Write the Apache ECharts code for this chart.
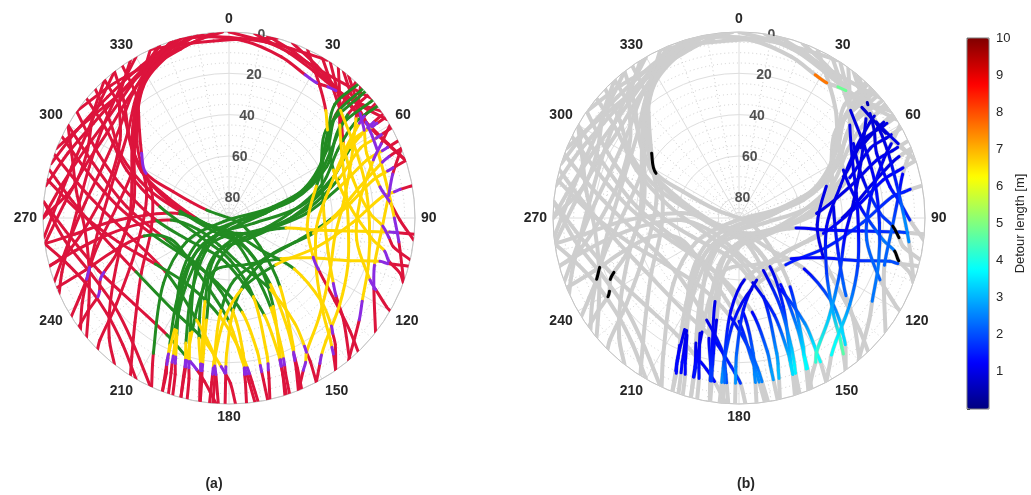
<!DOCTYPE html>
<html>
<head>
<meta charset="utf-8">
<script src="https://cdn.jsdelivr.net/npm/echarts@6/dist/echarts.min.js"></script>
<style>
  html, body { margin: 0; padding: 0; background: #ffffff; }
  #chart { width: 1031px; height: 495px; }
</style>
</head>
<body>
<div id="chart"></div>
<script>
// Satellite sky tracks. Each point: [elevation (deg), azimuth (deg), class of the
// segment starting here (r/g/y/p), detour length of that segment in metres
// (null = no detour, -1 = flagged)].

const elevationTicks = [0, 20, 40, 60, 80];
const colorbarTicks = [1, 2, 3, 4, 5, 6, 7, 8, 9, 10];

// Passes rising in the north-east / east and setting in the south-west
const passesNE = [
  [[0,47.1,'g',null],[26.6,47.8,'g',null],[43.1,64.8,'g',null],[67.9,75.7,'g',null],[86.8,237,'g',null],[66.5,240.8,'g',null],[45.2,225.1,'g',null],[15,209.2,'r',null],[0,204.6,'r',null]],
  [[0,50.7,'g',null],[20.4,50.6,'g',null],[36.6,62.3,'g',null],[57.7,74.4,'g',null],[84.6,100.3,'g',null],[72.4,232.8,'g',null],[51.8,218.3,'g',null],[28,204,'y',1.1],[18,201,'p',1.2],[15,200.3,'r',1.3],[10,199,'r',null],[0,197.6,'r',null]],
  [[0,57.3,'r',null],[5,57.4,'p',1.0],[8,57.5,'y',0.9],[19,57.9,'y',0.9],[35.7,68.4,'g',null],[55.2,80.9,'g',null],[77.9,102.4,'g',null],[78.2,220,'g',null],[61.7,213.6,'g',null],[31.1,198.7,'y',1.0],[18,195.5,'p',1.3],[15,195,'r',1.4],[10,194,'r',null],[0,193,'r',null]],
  [[0,65.5,'r',null],[6,66,'p',1.0],[9,66.3,'y',1.0],[17.7,67.2,'y',1.1],[34.2,74.2,'g',1.0],[52.4,86.6,'g',null],[70.8,107.7,'g',null],[77.6,170.3,'g',null],[62.2,195.8,'g',null],[39.5,192.4,'y',1.0],[23.4,190.7,'y',1.4],[18,190.2,'p',1.6],[15,190,'r',1.8],[10,189.5,'r',null],[0,188.9,'r',null]],
  [[0,72,'r',null],[7,73,'p',1.2],[10,73.5,'y',1.2],[17.8,75.2,'y',1.3],[32.8,84.5,'y',1.2],[48.5,100.3,'g',null],[62.6,128.6,'g',null],[58.8,164.1,'g',1.0],[45.5,177.3,'y',1.4],[24.5,181,'y',2.2],[18,181.2,'p',2.5],[15,181.2,'r',2.7],[10,181.2,'r',null],[0,181.2,'r',null]],
  [[0,44,'g',null],[15,43,'g',null],[28,50,'g',null],[45,66,'g',null],[70,80,'g',null],[85,160,'g',null],[70,225,'g',null],[50,214,'g',null],[30,205,'y',1.0],[18,202,'p',1.2],[15,201.5,'r',1.3],[10,200.5,'r',null],[0,199,'r',null]],
  [[0,61,'r',null],[6,61.3,'p',1.0],[9,61.5,'y',1.0],[18,62,'y',1.1],[33,70,'g',null],[50,82,'g',null],[68,100,'g',null],[80,150,'g',null],[70,200,'g',null],[48,196,'y',1.0],[28,192,'y',1.3],[18,190.8,'p',1.6],[15,190.5,'r',1.8],[10,190,'r',null],[0,189,'r',null]],
  [[0,80,'r',null],[6,80.5,'p',1.4],[9,81,'y',1.5],[15,82,'y',1.6],[30,92,'y',1.8],[45,108,'y',1.5],[58,135,'g',null],[55,170,'y',1.0],[40,183,'y',1.4],[20,186,'y',2.2],[17,186,'p',2.4],[14,186,'r',2.6],[10,186,'r',null],[0,186,'r',null]],
  [[0,53,'g',null],[14,53,'g',null],[28,58,'g',null],[42,70,'g',null],[60,85,'g',null],[76,120,'g',null],[80,215,'g',null],[62,222,'g',null],[42,212,'g',null],[22,205,'y',1.1],[16,203.5,'p',1.2],[13,203,'r',1.3],[9,202,'r',null],[0,201,'r',null]],
  [[0,46,'g',null],[18,46,'g',null],[32,55,'g',null],[50,68,'g',null],[72,82,'g',null],[86,190,'g',null],[70,215,'g',null],[48,206,'g',null],[26,199,'y',1.0],[18,197,'p',1.2],[15,196.5,'r',1.3],[10,196,'r',null],[0,195,'r',null]],
  [[0,56,'r',null],[6,56.5,'p',0.9],[10,57,'y',0.9],[22,60,'g',null],[40,72,'g',null],[60,90,'g',null],[76,135,'g',null],[72,200,'g',null],[52,200,'g',null],[30,194,'y',1.2],[18,191,'p',1.6],[15,190.5,'r',1.8],[10,190,'r',null],[0,189,'r',null]],
  [[0,68,'r',null],[7,69,'p',1.0],[11,70,'y',1.0],[24,76,'y',1.0],[40,90,'g',null],[56,110,'g',null],[64,140,'g',null],[60,175,'g',1.0],[45,185,'y',1.2],[25,186,'y',1.8],[18,185.5,'p',2.1],[15,185.3,'r',2.3],[10,185,'r',null],[0,185,'r',null]],
  [[0,95,'r',null],[8,95,'p',1.8],[12,95,'y',1.8],[30,96,'y',1.5],[48,98,'y',1.2],[62,100,'g',null],[76,120,'g',null],[80,200,'g',null],[68,218,'g',null],[50,212,'g',null],[30,206,'y',1.0],[18,204,'p',1.2],[15,203.5,'r',1.3],[10,202.5,'r',null],[0,201,'r',null]],
  [[0,105,'r',null],[10,106,'p',2.0],[14,106,'y',2.0],[30,110,'y',1.6],[46,116,'y',1.3],[58,128,'g',null],[66,160,'g',null],[64,195,'g',null],[50,200,'g',null],[32,198,'y',1.0],[18,196.5,'p',1.3],[15,196.2,'r',1.4],[10,195.8,'r',null],[0,195,'r',null]]
];

// Passes rising in the west / north-west and setting in the south / south-east
const passesNW = [
  [[0,325,'r',null],[16.2,322.7,'r',null],[29.2,314.5,'r',null],[37.4,306.5,'p',-1],[44.4,298.3,'r',null],[60.2,295.3,'r',null],[78.5,289.7,'g',null],[84,116,'g',null],[69.5,132.8,'g',null],[48.6,143.4,'y',1.5],[20,153.5,'y',3.4],[17,154.6,'p',3.6],[14,155.2,'r',3.8],[10,156,'r',null],[0,158.1,'r',null]],
  [[0,318,'r',null],[18,314.7,'r',null],[34.2,304,'r',null],[50.3,292.5,'r',null],[71.1,272,'g',null],[80.7,167,'g',null],[62.1,147.5,'g',1.0],[42.1,153.4,'y',1.6],[20,159.4,'y',3.0],[17,160,'p',3.2],[14,160.5,'r',3.4],[10,161,'r',null],[0,162.5,'r',null]],
  [[0,310,'r',null],[17.1,305.7,'r',null],[35.3,295.1,'r',null],[56.1,279.3,'g',null],[73.4,237.2,'g',null],[69.7,178.6,'g',null],[50.2,162.8,'y',1.2],[22,164.4,'y',2.7],[17,165,'p',2.9],[14,165.5,'r',3.1],[10,166,'r',null],[0,167.3,'r',null]],
  [[0,300,'r',null],[19.2,291.9,'r',null],[40.2,276.3,'r',null],[58,250.6,'g',null],[61.1,202,'g',null],[43.9,177.4,'y',1.2],[24.2,174,'y',2.2],[17,174.2,'p',2.4],[14,174.3,'r',2.6],[10,174.3,'r',null],[0,174.6,'r',null]],
  [[0,290,'r',null],[20.1,279.8,'r',null],[40,261.5,'r',null],[49.7,228.4,'g',null],[38.2,197.6,'y',1.0],[24,186.6,'y',1.5],[17,185.3,'p',1.8],[14,184.8,'r',2.0],[10,184.3,'r',null],[0,183.3,'r',null]],
  [[0,305,'r',null],[20,296,'r',null],[38,285,'r',null],[55,268,'g',null],[68,240,'g',null],[70,190,'g',null],[58,168,'g',1.0],[40,160,'y',1.6],[20,160,'y',3.0],[17,160.3,'p',3.2],[14,160.6,'r',3.4],[10,161,'r',null],[0,162,'r',null]],
  [[0,282,'r',null],[18,272,'r',null],[35,258,'r',null],[48,238,'g',null],[52,210,'g',null],[42,185,'y',1.1],[25,175,'y',2.0],[17,173,'p',2.3],[14,172.5,'r',2.5],[10,172,'r',null],[0,171,'r',null]],
  [[0,322,'r',null],[14,318,'r',null],[28,309,'r',null],[42,298,'r',null],[58,289,'r',null],[74,270,'g',null],[82,200,'g',null],[72,150,'g',null],[52,148,'y',1.3],[30,152,'y',2.6],[18,154.3,'p',3.4],[15,154.8,'r',3.7],[10,155.5,'r',null],[0,157,'r',null]],
  [[0,314,'r',null],[16,309,'r',null],[30,300,'r',null],[48,290,'r',null],[66,278,'g',null],[80,230,'g',null],[78,165,'g',null],[62,155,'g',1.0],[42,155,'y',1.8],[22,158,'y',3.1],[17,158.8,'p',3.4],[14,159.3,'r',3.6],[10,160,'r',null],[0,161,'r',null]],
  [[0,296,'r',null],[18,288,'r',null],[36,276,'r',null],[52,258,'g',null],[62,225,'g',null],[58,190,'g',null],[44,172,'y',1.2],[24,168,'y',2.3],[17,168,'p',2.6],[14,168,'r',2.8],[10,168,'r',null],[0,168,'r',null]],
  [[0,285,'r',null],[14,276,'r',null],[28,262,'r',null],[38,240,'g',null],[38,212,'g',null],[30,192,'y',1.2],[18,183,'p',1.6],[15,181.5,'r',1.8],[10,179.5,'r',null],[0,178,'r',null]],
  [[0,275,'r',null],[12,264,'r',null],[22,248,'r',null],[28,228,'r',null],[26,208,'g',null],[18,195,'p',1.2],[15,192,'r',1.3],[10,188.5,'r',null],[0,184,'r',null]],
  [[0,262,'r',null],[15,264,'r',null],[32,268,'r',null],[50,272,'r',null],[66,275,'g',null],[80,250,'g',null],[82,160,'g',null],[68,135,'g',null],[50,128,'y',1.2],[30,132,'y',2.2],[18,136.5,'p',3.2],[15,138,'r',3.4],[10,140,'r',null],[0,145,'r',null]],
  [[0,255,'r',null],[14,258,'r',null],[30,262,'r',null],[46,266,'r',null],[62,268,'g',null],[74,250,'g',null],[76,200,'g',null],[66,165,'g',null],[50,150,'y',1.3],[30,148,'y',2.6],[18,149.5,'p',3.5],[15,150,'r',3.8],[10,150.5,'r',null],[0,152,'r',null]],
  [[0,248,'r',null],[16,250,'r',null],[32,254,'r',null],[48,258,'g',null],[60,250,'g',null],[62,225,'g',null],[54,195,'g',null],[40,180,'y',1.3],[22,175,'y',2.2],[17,174,'p',2.4],[14,173.5,'r',2.6],[10,173,'r',null],[0,172,'r',null]]
];

// Passes skirting the eastern side of the northern gap
const passesEast = [
  [[0,25,'r',null],[12.7,34.7,'r',null],[20,42,'y',null],[26.1,48.2,'g',null],[34.4,65.3,'y',1.0],[31.2,84.6,'y',1.2],[19.4,98.7,'y',2.4],[13,102,'p',-1],[10,105,'r',null],[3,107.9,'r',null],[0,110.4,'r',null]],
  [[0,33,'r',null],[12.8,44.1,'r',null],[23.9,56.9,'y',1.0],[27.1,73,'y',1.0],[21.7,88.1,'y',1.8],[15.5,93,'p',-1],[12,97,'r',null],[9.3,99.9,'r',null],[0,103,'r',null]],
  [[0,40,'r',null],[6.5,48,'r',0.5],[7,48.7,'r',null],[8.9,51.4,'p',0.9],[12,57,'y',0.9],[16.4,64.8,'y',1.0],[15.4,78.3,'p',1.3],[12,84,'r',1.6],[7.3,90.7,'r',null],[0,96.8,'r',null]],
  [[0,43,'r',null],[10,44.5,'r',null],[20.8,46.8,'g',null],[37.6,59.7,'g',null],[44,83.1,'y',1.0],[39,109.6,'y',1.5],[30.4,122.1,'p',2.2],[26,126,'r',null],[15.8,131.7,'r',null],[0,139.6,'r',null]],
  [[0,52,'r',null],[8,53,'p',0.9],[12,54,'y',0.9],[23.4,58.8,'y',1.0],[38.8,72.8,'y',1.0],[47.4,95.6,'y',1.1],[39.8,122.3,'y',1.8],[25.1,135.3,'y',3.0],[14,140,'y',4.3],[10,141.5,'p',4.6],[7,142.5,'r',null],[0,145,'r',null]],
  [[0,60,'r',null],[8,64,'p',1.0],[14.7,68.1,'y',1.1],[26,82.2,'y',1.4],[27.3,99.8,'y',2.2],[15.5,113.7,'p',null],[11,116,'r',null],[2.5,119.4,'r',null],[0,120,'r',null]],
  [[0,48.5,'r',null],[14,49,'g',null],[30,56,'g',null],[45,70,'y',1.0],[52,95,'y',1.0],[45,115,'p',null],[40,120,'r',null],[25,128,'r',null],[10,133,'r',null],[0,136,'r',null]],
  [[0,36,'r',null],[10,42,'r',null],[20,50,'y',1.0],[28,62,'y',1.0],[32,78,'y',1.1],[32,95,'y',1.3],[28,112,'y',1.8],[22,128,'y',2.6],[14,142,'y',3.8],[10,146,'p',null],[7,148,'r',null],[0,152,'r',null]],
  [[0,30,'r',null],[8,37,'r',null],[15,46,'y',0.9],[20,60,'y',1.0],[22,75,'y',1.2],[22,92,'y',1.6],[19,108,'y',2.4],[14,122,'p',null],[10,128,'r',null],[0,140,'r',null]],
  [[0,45,'r',null],[12,52,'y',0.9],[24,64,'y',1.0],[34,82,'y',1.0],[38,100,'y',1.2],[34,120,'y',2.0],[25,138,'y',3.2],[15,150,'y',4.2],[11,152,'p',null],[8,154,'r',null],[0,158,'r',null]],
  [[0,68,'r',null],[8,75,'p',1.2],[12,82,'y',1.5],[16,95,'y',2.2],[16,108,'p',null],[12,116,'r',null],[0,128,'r',null]],
  [[0,38,'r',null],[6,45,'r',null],[9,55,'p',0.9],[11,65,'y',1.0],[12,78,'y',1.5],[10,90,'p',2.6],[7,98,'r',null],[0,110,'r',null]]
];

// Passes skirting the western side of the northern gap
const passesWest = [
  [[0,335,'r',null],[13.2,325.9,'r',null],[25,314.7,'r',null],[37.5,298.2,'r',null],[35.4,275.8,'r',null],[25,258,'r',null],[18.5,250.5,'p',-1],[15,246.7,'r',null],[8,242,'r',null],[0,238,'r',null]],
  [[0,328,'r',null],[11.1,318,'r',null],[25.2,305.6,'r',null],[29.5,287.7,'r',null],[22.7,269.2,'r',null],[9.6,257.7,'r',null],[0,255,'r',null]],
  [[0,342,'r',null],[8,332,'r',null],[21,320,'r',null],[35,303.5,'r',null],[43.4,276.8,'r',null],[33,252.5,'r',null],[24,246.5,'p',-1],[21,244.5,'r',null],[18,240.5,'p',-1],[16,239,'r',null],[8,236.5,'r',null],[0,234,'r',null]],
  [[0,350,'r',null],[5,341,'r',null],[14,327,'r',null],[32,309.8,'r',null],[48.4,286.7,'r',null],[43.2,252.8,'r',null],[21.8,232.8,'r',null],[4,226.6,'r',null],[0,225,'r',null]],
  [[0,318,'r',null],[7.1,307.6,'r',null],[14.4,294.4,'r',null],[13.2,281.4,'r',null],[0,270,'r',null]],
  [[0,338,'r',null],[8,331,'r',null],[21,319,'r',null],[33,305.5,'r',null],[50,290,'r',null],[52,262,'r',null],[40,238,'r',null],[22,222,'r',null],[8,215,'r',null],[0,212,'r',null]],
  [[0,300,'r',null],[8,292,'r',null],[15,280,'r',null],[20,266,'r',null],[18,250,'r',null],[10,238,'r',null],[0,230,'r',null]],
  [[0,345,'r',null],[6,337,'r',null],[14,325,'r',null],[26,310,'r',null],[31,290,'r',null],[27,266,'r',null],[18,250,'r',null],[8,240,'r',null],[0,233,'r',null]],
  [[0,330,'r',null],[8,320,'r',null],[15,305,'r',null],[18,290,'r',null],[17,275,'r',null],[12,262,'r',null],[5,252,'r',null],[0,246,'r',null]],
  [[0,355,'r',null],[5,344,'r',null],[9,332,'r',null],[20,320,'r',null],[32,306,'r',null],[40,290,'r',null],[42,272,'r',null],[34,252,'r',null],[20,235,'r',null],[8,225,'r',null],[0,218,'r',null]],
  [[0,322,'r',null],[6,312,'r',null],[10,300,'r',null],[10,288,'r',null],[7,276,'r',null],[0,264,'r',null]],
  [[0,262,'r',null],[8,255,'r',null],[14,245,'r',null],[15,232,'r',null],[10,220,'r',null],[0,210,'r',null]],
  [[0,275,'r',null],[10,262,'r',null],[18,248,'r',null],[20,232,'r',null],[14,218,'r',null],[0,205,'r',null]]
];

// Low passes across the northern horizon
const passesNorth = [
  [[0,287,'r',null],[5,300,'r',null],[7,315,'r',null],[5,330,'r',null],[0,343,'r',null]],
  [[0,280,'r',null],[6,292,'r',null],[10,305,'r',null],[10,318,'r',null],[6,332,'r',null],[0,345,'r',null]],
  [[0,305,'r',null],[4,318,'r',null],[6,330,'r',null],[5,342,'r',null],[2,352,'r',null],[0,358,'r',null]],
  [[0,335,'r',null],[3,345,'r',null],[4,355,'r',null],[3,5,'r',null],[0,15,'r',null]],
  [[0,345,'r',null],[2,355,'r',null],[3,5,'r',null],[3,15,'r',null],[2,25,'r',null],[0,32,'r',null]],
  [[0,0,'r',null],[3,12,'r',null],[5,22,'r',null],[6,32,'r',null],[4,42,'r',null],[0,50,'r',null]],
  [[0,8,'r',null],[5,20,'r',null],[8,30,'r',null],[9,40,'r',null],[6,50,'r',null],[0,58,'r',null]],
  [[0,350,'r',null],[4,5,'r',null],[8,18,'r',null],[11.5,28,'p',7.6],[12,33,'r',null],[10.5,37,'p',4.8],[9.5,40,'r',null],[5,50,'r',null],[0,55,'r',null]],
  [[0,270,'r',null],[8,282,'r',null],[13,296,'r',null],[14,310,'r',null],[10,324,'r',null],[0,338,'r',null]],
  [[0,292,'r',null],[7,305,'r',null],[10,318,'r',null],[8,330,'r',null],[4,340,'r',null],[0,348,'r',null]],
  [[0,20,'r',null],[5,30,'r',null],[9,42,'r',null],[9,55,'r',1.0],[5,65,'r',null],[0,72,'r',null]],
  [[0,12,'r',null],[4,22,'r',null],[8,35,'r',null],[10,48,'r',0.8],[8,60,'r',null],[0,72,'r',null]],
  [[0,262,'r',null],[10,275,'r',null],[16,290,'r',null],[18,305,'r',null],[15,318,'r',null],[8,332,'r',null],[0,344,'r',null]],
  [[0,250,'r',null],[12,262,'r',null],[20,276,'r',null],[24,292,'r',null],[22,308,'r',null],[14,322,'r',null],[6,334,'r',null],[0,342,'r',null]]
];

const allPasses = [].concat(passesNorth, passesWest, passesNW, passesNE, passesEast);

const CLASS_KEYS = ['r', 'g', 'y', 'p'];
const CLASS_COLORS = ['#dc143c', '#228b22', '#ffd700', '#8a2be2'];
const JET = ['#000080', '#0000ff', '#0080ff', '#00ffff', '#80ff80', '#ffff00', '#ff8000', '#ff0000', '#800000'];
const DETOUR_MAX = 10;
const FONT = '"Liberation Sans", Arial, Helvetica, sans-serif';
const TEXT = '#262626';

// Split every pass into segments; each segment keeps its neighbours so that it
// can be drawn as a smooth curve piece, plus the detour at both of its ends.
function segmentsOf(passes) {
  const out = [];
  passes.forEach(p => {
    for (let i = 0; i + 1 < p.length; i++) {
      const a = p[Math.max(i - 1, 0)], b = p[i], c = p[i + 1], d = p[Math.min(i + 2, p.length - 1)];
      out.push([b[0], b[1], a[0], a[1], c[0], c[1], d[0], d[1], CLASS_KEYS.indexOf(b[2]), b[3], c[3]]);
    }
  });
  return out;
}

const segments = segmentsOf(allPasses);
const segmentsByClass = [0, 1, 2, 3].reduce((acc, k) => acc.concat(segments.filter(s => s[8] === k)), []);
const detourSegments = segments.filter(s => s[9] != null && s[9] >= 0);
const flaggedSegments = segments.filter(s => s[9] != null && s[9] < 0);

// Same colour ramp as the colour bar, for shading along a segment
function hexRgb(h) { return [1, 3, 5].map(i => parseInt(h.substr(i, 2), 16)); }
const JET_RGB = JET.map(hexRgb);
function rampColor(v) {
  const t = Math.max(0, Math.min(1, v / DETOUR_MAX)) * (JET_RGB.length - 1);
  const i = Math.min(Math.floor(t), JET_RGB.length - 2), f = t - i;
  const c = JET_RGB[i].map((x, k) => Math.round(x + (JET_RGB[i + 1][k] - x) * f));
  return 'rgb(' + c.join(',') + ')';
}

function unit(vx, vy) {
  const l = Math.hypot(vx, vy) || 1;
  return [vx / l, vy / l];
}

function curvePiece(colorFn, width) {
  return function (params, api) {
    const p1 = api.coord([api.value(0), api.value(1)]);
    const p0 = api.coord([api.value(2), api.value(3)]);
    const p2 = api.coord([api.value(4), api.value(5)]);
    const p3 = api.coord([api.value(6), api.value(7)]);
    const len = Math.hypot(p2[0] - p1[0], p2[1] - p1[1]);
    const t1 = unit(p2[0] - p0[0], p2[1] - p0[1]);
    const t2 = unit(p3[0] - p1[0], p3[1] - p1[1]);
    const k = len / 3;
    return {
      type: 'bezierCurve',
      shape: {
        x1: p1[0], y1: p1[1], x2: p2[0], y2: p2[1],
        cpx1: p1[0] + t1[0] * k, cpy1: p1[1] + t1[1] * k,
        cpx2: p2[0] - t2[0] * k, cpy2: p2[1] - t2[1] * k
      },
      style: { stroke: colorFn(api, p1, p2), fill: null, lineWidth: width, lineCap: 'round' }
    };
  };
}

function detourStroke(api, p1, p2) {
  const v1 = api.value(9);
  let v2 = api.value(10);
  if (v2 == null || isNaN(v2) || v2 < 0) v2 = v1;
  return new echarts.graphic.LinearGradient(p1[0], p1[1], p2[0], p2[1], [
    { offset: 0, color: rampColor(v1) }, { offset: 1, color: rampColor(v2) }
  ], true);
}

function trackSeries(polarIndex, data, colorFn, width, z) {
  return {
    type: 'custom', coordinateSystem: 'polar', polarIndex: polarIndex,
    encode: { radius: 0, angle: 1 }, clip: true, silent: true, z: z,
    renderItem: curvePiece(colorFn, width), data: data
  };
}

function radialLabels(polarIndex) {
  return {
    type: 'scatter', coordinateSystem: 'polar', polarIndex: polarIndex, silent: true, z: 1,
    symbolSize: 1, itemStyle: { color: 'rgba(0,0,0,0)' },
    data: elevationTicks.map(v => [v, 10]),
    label: { show: true, position: 'inside', formatter: p => String(p.value[0]),
             fontFamily: FONT, fontSize: 14, fontWeight: 'bold', color: TEXT }
  };
}

function polarAxes(polarIndex) {
  return {
    angle: {
      polarIndex: polarIndex, type: 'value', min: 0, max: 360, interval: 30,
      startAngle: 90, clockwise: true,
      axisLine: { show: true, lineStyle: { color: '#c4c4c4', width: 1 } },
      axisTick: { show: false },
      axisLabel: { margin: 6, fontFamily: FONT, fontSize: 14, fontWeight: 'bold', color: TEXT,
                   formatter: v => (v >= 360 ? '' : String(v)) },
      splitLine: { show: true, lineStyle: { color: '#dedede', width: 1 } },
      minorTick: { show: false, splitNumber: 3 },
      minorSplitLine: { show: true, lineStyle: { color: '#cfcfcf', width: 1, type: [1, 3] } }
    },
    radius: {
      polarIndex: polarIndex, type: 'value', min: 0, max: 90, interval: 20, inverse: true,
      axisLine: { show: false }, axisTick: { show: false }, axisLabel: { show: false },
      splitLine: { show: true, lineStyle: { color: '#dedede', width: 1 } },
      minorTick: { show: false, splitNumber: 4 },
      minorSplitLine: { show: true, lineStyle: { color: '#cfcfcf', width: 1, type: [1, 3] } }
    }
  };
}

const axesA = polarAxes(0), axesB = polarAxes(1);
const chart = echarts.init(document.getElementById('chart'), null, { renderer: 'canvas' });

chart.setOption({
  animation: false,
  backgroundColor: '#ffffff',
  polar: [
    { center: [229, 218], radius: 186 },
    { center: [739, 218], radius: 186 }
  ],
  angleAxis: [axesA.angle, axesB.angle],
  radiusAxis: [axesA.radius, axesB.radius],
  grid: { left: 967, top: 38, width: 22, height: 371, show: true, z: 5,
          borderColor: '#7a7a7a', borderWidth: 1, backgroundColor: 'rgba(0,0,0,0)' },
  xAxis: { type: 'value', show: false, min: 0, max: 1 },
  yAxis: {
    type: 'value', position: 'right', min: 0, max: DETOUR_MAX, interval: 1,
    axisLine: { show: false },
    axisTick: { show: true, length: 3, lineStyle: { color: TEXT } },
    splitLine: { show: false },
    axisLabel: { margin: 7, fontFamily: FONT, fontSize: 13, color: TEXT,
                 formatter: v => (colorbarTicks.indexOf(v) >= 0 ? String(v) : '') },
    name: 'Detour length [m]', nameLocation: 'middle', nameRotate: 90, nameGap: 25,
    nameTextStyle: { fontFamily: FONT, fontSize: 13, color: TEXT }
  },
  visualMap: {
    type: 'continuous', min: 0, max: DETOUR_MAX, dimension: 9, seriesIndex: 4,
    orient: 'vertical', left: 967, top: 38, itemWidth: 22, itemHeight: 371,
    padding: 0, calculable: false, hoverLink: false, text: null,
    inRange: { color: JET }
  },
  graphic: [
    { type: 'text', x: 214, y: 484, style: { text: '(a)', font: 'bold 14px ' + FONT, fill: TEXT, textAlign: 'center', textVerticalAlign: 'middle' } },
    { type: 'text', x: 746, y: 484, style: { text: '(b)', font: 'bold 14px ' + FONT, fill: TEXT, textAlign: 'center', textVerticalAlign: 'middle' } }
  ],
  series: [
    radialLabels(0),
    radialLabels(1),
    trackSeries(0, segmentsByClass, api => CLASS_COLORS[api.value(8)], 3, 2),
    trackSeries(1, segments, () => '#cecece', 4, 2),
    trackSeries(1, detourSegments, detourStroke, 3, 3),
    trackSeries(1, flaggedSegments, () => '#000000', 3, 4)
  ]
});
</script>
</body>
</html>
